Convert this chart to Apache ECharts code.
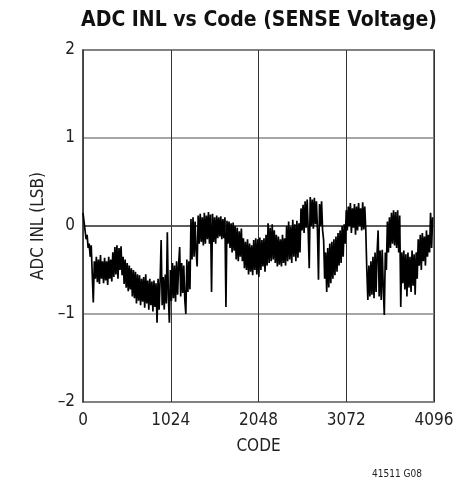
<!DOCTYPE html>
<html>
<head>
<meta charset="utf-8">
<script src="https://cdn.jsdelivr.net/npm/echarts@6/dist/echarts.min.js"></script>
<style>html,body{margin:0;padding:0;background:#fff}#c{width:474px;height:477px}</style>
</head>
<body>
<div id="c"></div>
<script>
var titleText = 'ADC INL vs Code (SENSE Voltage)';
var xName = 'CODE';
var yName = 'ADC INL (LSB)';
var noteText = '41511 G08';
var xTicks = [0, 1024, 2048, 3072, 4096];
var yTicks = [-2, -1, 0, 1, 2];
var codeStep = 12;
var inl = [
 0.15,0.05,-0.05,-0.15,-0.1,-0.25,-0.2,-0.35,-0.22,-0.55,
 -0.87,-0.4,-0.6,-0.35,-0.64,-0.38,-0.66,-0.33,-0.6,-0.4,
 -0.65,-0.36,-0.62,-0.4,-0.67,-0.35,-0.6,-0.38,-0.63,-0.3,
 -0.58,-0.24,-0.55,-0.22,-0.6,-0.25,-0.5,-0.23,-0.56,-0.35,
 -0.66,-0.38,-0.7,-0.42,-0.74,-0.45,-0.72,-0.48,-0.8,-0.5,
 -0.82,-0.52,-0.88,-0.55,-0.85,-0.56,-0.9,-0.6,-0.86,-0.58,
 -0.93,-0.55,-0.88,-0.62,-0.95,-0.6,-0.9,-0.63,-0.97,-0.62,
 -0.92,-0.65,-1.1,-0.6,-0.95,-0.62,-0.16,-0.9,-0.58,-0.95,
 -0.55,-0.88,-0.07,-0.8,-1.1,-0.5,-0.85,-0.42,-0.82,-0.45,
 -0.86,-0.4,-0.78,-0.44,-0.24,-0.8,-0.42,-0.76,-0.45,-0.84,
 -1.0,-0.38,-0.75,-0.4,-0.72,0.08,-0.38,0.1,-0.35,0.05,
 -0.3,-0.46,0.12,-0.2,0.14,-0.18,0.1,-0.22,0.15,-0.2,
 0.12,-0.15,0.16,-0.2,0.13,-0.75,0.14,-0.18,0.1,-0.2,
 0.12,-0.14,0.1,-0.12,0.11,-0.15,0.08,-0.14,0.1,-0.92,
 0.06,-0.2,0.05,-0.25,0.03,-0.3,0.04,-0.28,0.0,-0.38,
 -0.02,-0.4,-0.06,-0.35,-0.03,-0.4,-0.14,-0.48,-0.18,-0.5,
 -0.15,-0.55,-0.2,-0.52,-0.22,-0.56,-0.16,-0.5,-0.14,-0.55,
 -0.15,-0.58,-0.13,-0.5,-0.16,-0.46,-0.14,-0.52,-0.1,-0.45,
 0.03,-0.42,-0.02,-0.4,0.02,-0.38,-0.05,-0.42,-0.1,-0.46,
 -0.12,-0.44,-0.15,-0.46,-0.1,-0.42,-0.14,-0.45,0.0,-0.4,
 0.05,-0.38,-0.01,-0.42,0.07,-0.35,0.02,-0.4,0.06,-0.36,
 0.03,-0.3,0.2,-0.05,0.24,-0.08,0.28,-0.02,0.3,-0.05,
 -0.48,0.33,0.0,0.3,-0.03,0.32,0.02,0.28,-0.05,-0.61,
 0.25,0.0,0.28,-0.05,-0.16,-0.6,-0.3,-0.75,-0.25,-0.7,
 -0.2,-0.65,-0.18,-0.6,-0.15,-0.56,-0.12,-0.52,-0.08,-0.45,
 -0.05,-0.42,0.0,-0.35,0.02,-0.2,0.18,-0.05,0.22,0.0,
 0.26,-0.08,0.2,-0.02,0.25,-0.1,0.22,-0.05,0.26,0.0,
 0.2,-0.05,0.27,-0.04,0.22,-0.05,-0.5,-0.84,-0.45,-0.8,
 -0.4,-0.78,-0.35,-0.82,-0.3,-0.75,-0.3,-0.05,-0.8,-0.28,
 -0.84,-0.27,-0.7,-1.01,-0.3,-0.5,0.05,-0.3,0.1,-0.25,
 0.15,-0.2,0.18,-0.22,0.16,-0.25,0.18,-0.3,0.12,-0.92,
 -0.3,-0.65,-0.28,-0.72,-0.32,-0.8,-0.3,-0.7,-0.35,-0.75,
 -0.28,-0.68,-0.32,-0.78,-0.3,-0.6,-0.15,-0.45,-0.1,-0.5,
 -0.08,-0.4,-0.12,-0.45,-0.05,-0.35,-0.1,-0.3,0.15,-0.25,
 0.1
];
var pts = inl.map(function(v, i){ return [i * codeStep, v]; });
var font = '"Liberation Sans Narrow", "DejaVu Sans Condensed", Arial, sans-serif';
var chart = echarts.init(document.getElementById('c'), null, {renderer:'canvas'});
chart.setOption({
  animation: false,
  backgroundColor: '#fff',
  grid: {left: 83, right: 40, top: 50, bottom: 75, show: true, borderColor: '#444', borderWidth: 1.5, backgroundColor: 'transparent'},
  graphic: [
    {type:'text', x: 259, y: 21, style:{text: titleText, font: 'bold 21px ' + font, fill:'#111', textAlign:'center', textVerticalAlign:'middle'}},
    {type:'text', x: 397, y: 474, style:{text: noteText, font: '10px ' + font, fill:'#222', textAlign:'center', textVerticalAlign:'middle'}}
  ],
  xAxis: {
    type: 'value', min: xTicks[0], max: xTicks[xTicks.length-1], interval: 1024,
    name: xName, nameLocation: 'middle', nameGap: 36,
    nameTextStyle: {fontFamily: font, fontSize: 17, color:'#222'},
    axisLine: {show: true, lineStyle:{color:'#444', width:1.5}},
    axisTick: {show: false},
    axisLabel: {fontFamily: font, fontSize: 17, color:'#222', margin: 10,
      formatter: function(v){ return String(v); }},
    splitLine: {show: true, lineStyle:{color:'#333', width:1}}
  },
  yAxis: {
    type: 'value', min: yTicks[0], max: yTicks[yTicks.length-1], interval: 1,
    name: yName, nameLocation: 'middle', nameGap: 30, nameRotate: 90,
    nameTextStyle: {fontFamily: font, fontSize: 17, color:'#222'},
    axisLine: {show: true, lineStyle:{color:'#444', width:1.5}},
    axisTick: {show: false},
    axisLabel: {fontFamily: font, fontSize: 17, color:'#222', margin: 8,
      formatter: function(v){ return v < 0 ? '\u2013' + Math.abs(v) : String(v); }},
    splitLine: {show: true, lineStyle:{color:'#888', width:1.5}}
  },
  series: [{
    type: 'line', data: pts, showSymbol: false, symbol: 'none',
    lineStyle: {color:'#000', width: 1.7}, z: 5
  }]
});
</script>
</body>
</html>
